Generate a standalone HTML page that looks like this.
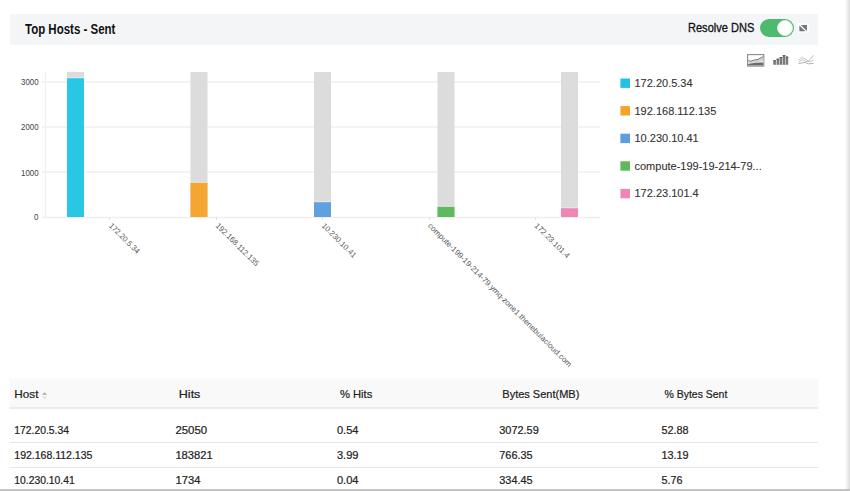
<!DOCTYPE html>
<html><head><meta charset="utf-8"><title>Top Hosts - Sent</title>
<style>
*{margin:0;padding:0;box-sizing:border-box}
html,body{width:850px;height:491px;overflow:hidden;background:#fff;font-family:"Liberation Sans",Arial,sans-serif;color:#222}
.abs{position:absolute}
#hdr{position:absolute;left:9.5px;top:14px;width:808.8px;height:30.8px;background:#f4f5f7}
#title{position:absolute;left:25px;top:21px;font-weight:bold;font-size:14px;color:#111;white-space:nowrap;transform-origin:0 0;transform:scaleX(.82)}
#rdns{position:absolute;left:688px;top:21px;font-size:12px;color:#111;-webkit-text-stroke:0.3px #111;white-space:nowrap;transform-origin:0 0;transform:scaleX(.92)}
#tog{position:absolute;left:759.5px;top:19px;width:34px;height:18px;border-radius:9px;background:#4dba6f}
#knob{position:absolute;left:777px;top:20px;width:16px;height:16px;border-radius:50%;background:#fff;border:1px solid #d8efe0}
.rshadow{position:absolute;right:0;top:0;width:5px;height:491px;background:linear-gradient(to right,#fff,#e6e6e6 70%,#d9d9d9)}
.bbar{position:absolute;left:0;bottom:0;width:850px;height:2px;background:#c3c3c3}
svg text{font-family:"Liberation Sans",Arial,sans-serif}
.th{position:absolute;top:386px;font-size:12px;color:#222;white-space:nowrap;transform-origin:0 0;transform:scaleX(.88)}
.td{position:absolute;font-size:12px;color:#222;white-space:nowrap;transform-origin:0 0;transform:scaleX(.86)}
</style></head><body>
<div id="hdr"></div>
<div id="title">Top Hosts - Sent</div>
<div id="rdns">Resolve DNS</div>
<div id="tog"></div><div id="knob"></div>
<svg class="abs" style="left:0;top:0" width="850" height="491" viewBox="0 0 850 491">
  <!-- expand icon -->
  <rect x="797.5" y="23" width="12" height="10" fill="#fafbfc"/>
  <path d="M800.8 24.9 L807 24.9 L807 31 Z" fill="#74777f"/>
  <path d="M799.4 25.6 L799.4 31.2 L805.4 31.2 Z" fill="#74777f"/>
  <!-- chart type icons -->
  <rect x="747.6" y="54.6" width="16.2" height="11.5" fill="#fff" stroke="#8a8a8a" stroke-width="1.1"/>
  <path d="M748.2 60.2 L750.6 61.3 L753 60.3 L758 59.4 L763.3 56.5 V65.6 H748.2 Z" fill="#d2d2d2"/>
  <path d="M748.2 60.2 L750.6 61.3 L753 60.3 L758 59.4 L763.3 56.5" fill="none" stroke="#727272" stroke-width="0.9"/>
  <path d="M748.2 62.6 L750.6 63.6 L753 62.8 L758 61.9 L763.3 60.5 V65.6 H748.2 Z" fill="#ebebeb"/>
  <path d="M748.2 64 L751 63.6 L756 62.8 L763.3 62.6 V65.6 H748.2 Z" fill="#6a6a6a"/>
  <g fill="#7a7a7a">
    <rect x="773.3" y="60.3" width="2.6" height="4.5"/>
    <rect x="776.6" y="58.7" width="2.6" height="6.1"/>
    <rect x="779.7" y="57" width="2.6" height="7.8"/>
    <rect x="782.8" y="55.1" width="2.5" height="9.7"/>
    <rect x="785.8" y="56.6" width="2.4" height="8.2"/>
  </g>
  <g fill="#5e5e5e">
    <rect x="773.3" y="60.3" width="2.6" height="1"/>
    <rect x="776.6" y="58.7" width="2.6" height="1"/>
    <rect x="779.7" y="57" width="2.6" height="1"/>
    <rect x="782.8" y="55.1" width="2.5" height="1"/>
    <rect x="785.8" y="56.6" width="2.4" height="1"/>
  </g>
  <g fill="none" stroke-width="1">
    <path d="M798.6 60.2 L802.5 57.4 L808.5 61 L813.6 55.2" stroke="#c2c2c2"/>
    <path d="M798.6 62 L802.3 59.8 L806 61.4 L810 61.6 L813.6 60" stroke="#c6c6c6"/>
    <path d="M798.6 63.6 L801.5 63 L805 62.4 L808.5 63.8 L813.6 63.4" stroke="#b2b2b2"/>
  </g>

  <!-- chart grid -->
  <g stroke="#efefef" stroke-width="1.3">
    <line x1="42" y1="82" x2="600.5" y2="82"/>
    <line x1="42" y1="127" x2="600.5" y2="127"/>
    <line x1="42" y1="172" x2="600.5" y2="172"/>
    <line x1="42" y1="217.5" x2="600.5" y2="217.5"/>
    <line x1="45.5" y1="72" x2="45.5" y2="217"/>
  </g>
  <g stroke="#e0e0e0" stroke-width="1">
    <line x1="109.5" y1="217" x2="109.5" y2="220"/>
    <line x1="216.5" y1="217" x2="216.5" y2="220"/>
    <line x1="322.5" y1="217" x2="322.5" y2="220"/>
    <line x1="429.5" y1="217" x2="429.5" y2="220"/>
    <line x1="535.5" y1="217" x2="535.5" y2="220"/>
  </g>
  <g font-size="8.6" fill="#444">
    <text x="21" y="85" textLength="17.6" lengthAdjust="spacingAndGlyphs">3000</text>
    <text x="21" y="130" textLength="17.6" lengthAdjust="spacingAndGlyphs">2000</text>
    <text x="21" y="175.5" textLength="17.6" lengthAdjust="spacingAndGlyphs">1000</text>
    <text x="34" y="220" textLength="4.5" lengthAdjust="spacingAndGlyphs">0</text>
  </g>
  <!-- bars -->
  <g fill="#dcdcdc">
    <rect x="67" y="72" width="17" height="145"/>
    <rect x="190.5" y="72" width="17" height="145"/>
    <rect x="314" y="72" width="17" height="145"/>
    <rect x="437.5" y="72" width="17" height="145"/>
    <rect x="561" y="72" width="17" height="145"/>
  </g>
  <rect x="67" y="78" width="17" height="139" fill="#29c7e6"/>
  <rect x="190.5" y="182.5" width="17" height="34.5" fill="#f4a630"/>
  <rect x="314" y="202" width="17" height="15" fill="#5fa1de"/>
  <rect x="437.5" y="206.5" width="17" height="10.5" fill="#5fba5d"/>
  <rect x="561" y="208" width="17" height="9" fill="#ef86b8"/>
  <g fill="#fff" opacity="0.6">
    <rect x="67" y="77.5" width="17" height="0.8"/>
    <rect x="190.5" y="182" width="17" height="0.8"/>
    <rect x="314" y="201.5" width="17" height="0.8"/>
    <rect x="437.5" y="206" width="17" height="0.8"/>
    <rect x="561" y="207.5" width="17" height="0.8"/>
  </g>
  <!-- x labels -->
  <g font-size="7.8" fill="#555" lengthAdjust="spacingAndGlyphs">
    <text transform="translate(108.6,226.2) rotate(45)" textLength="39.6" lengthAdjust="spacingAndGlyphs">172.20.5.34</text>
    <text transform="translate(215.3,226.2) rotate(45)" textLength="57.2" lengthAdjust="spacingAndGlyphs">192.168.112.135</text>
    <text transform="translate(321.2,226.2) rotate(45)" textLength="45.3" lengthAdjust="spacingAndGlyphs">10.230.10.41</text>
    <text transform="translate(427.4,226.2) rotate(45)" textLength="199.9" lengthAdjust="spacingAndGlyphs">compute-199-19-214-79.ymq-zone1.thenebulacloud.com</text>
    <text transform="translate(534.1,226.2) rotate(45)" textLength="45.8" lengthAdjust="spacingAndGlyphs">172.23.101.4</text>
  </g>
  <!-- legend -->
  <g>
    <rect x="620.4" y="78.5" width="9.6" height="9.4" fill="#22c2e6"/>
    <rect x="620.4" y="106.1" width="9.6" height="9.4" fill="#f6a427"/>
    <rect x="620.4" y="133.7" width="9.6" height="9.4" fill="#5d9fde"/>
    <rect x="620.4" y="161.3" width="9.6" height="9.4" fill="#5eb95c"/>
    <rect x="620.4" y="188.9" width="9.6" height="9.4" fill="#ef86b8"/>
  </g>
  <g font-size="11" fill="#333" stroke="#333" stroke-width="0.1">
    <text x="634.5" y="87.0">172.20.5.34</text>
    <text x="634.5" y="114.6">192.168.112.135</text>
    <text x="634.5" y="142.2">10.230.10.41</text>
    <text x="634.5" y="169.8">compute-199-19-214-79...</text>
    <text x="634.5" y="197.4">172.23.101.4</text>
  </g>
  <!-- table -->
  <rect x="9.5" y="378.5" width="809" height="29" fill="#f9f9f9"/>
  <rect x="9.5" y="407" width="809" height="2" fill="#ebebeb"/>
  <rect x="9.5" y="442" width="809" height="1" fill="#e8e8e8"/>
  <rect x="9.5" y="467" width="809" height="1" fill="#e8e8e8"/>
  <!-- sort icon -->
  <path d="M42 395 L44.5 392 L47 395 Z" fill="#b5b5b5"/>
  <path d="M42 396.5 L44.5 399.5 L47 396.5 Z" fill="#e0e0e0"/>
  <!-- table text -->
  <g font-size="11" fill="#222" stroke="#222" stroke-width="0.2">
    <text x="14.3" y="397.6" textLength="24.2" lengthAdjust="spacingAndGlyphs">Host</text>
    <text x="178.8" y="397.6" textLength="21.6" lengthAdjust="spacingAndGlyphs">Hits</text>
    <text x="339.9" y="397.6" textLength="32.4" lengthAdjust="spacingAndGlyphs">% Hits</text>
    <text x="502.3" y="397.6" textLength="77.0" lengthAdjust="spacingAndGlyphs">Bytes Sent(MB)</text>
    <text x="664.5" y="397.6" textLength="62.8" lengthAdjust="spacingAndGlyphs">% Bytes Sent</text>
  </g>
  <g font-size="10" fill="#222" stroke="#222" stroke-width="0.2">
    <text x="14.3" y="434" textLength="54.7" lengthAdjust="spacingAndGlyphs">172.20.5.34</text>
    <text x="175.4" y="434" textLength="31.8" lengthAdjust="spacingAndGlyphs">25050</text>
    <text x="336.9" y="434" textLength="21.6" lengthAdjust="spacingAndGlyphs">0.54</text>
    <text x="499.3" y="434" textLength="39.4" lengthAdjust="spacingAndGlyphs">3072.59</text>
    <text x="661.4" y="434" textLength="27.1" lengthAdjust="spacingAndGlyphs">52.88</text>
    <text x="14.3" y="458.8" textLength="78.1" lengthAdjust="spacingAndGlyphs">192.168.112.135</text>
    <text x="175.4" y="458.8" textLength="37.3" lengthAdjust="spacingAndGlyphs">183821</text>
    <text x="336.9" y="458.8" textLength="21.6" lengthAdjust="spacingAndGlyphs">3.99</text>
    <text x="499.3" y="458.8" textLength="33.3" lengthAdjust="spacingAndGlyphs">766.35</text>
    <text x="661.4" y="458.8" textLength="27.1" lengthAdjust="spacingAndGlyphs">13.19</text>
    <text x="14.3" y="483.7" textLength="60.4" lengthAdjust="spacingAndGlyphs">10.230.10.41</text>
    <text x="175.4" y="483.7" textLength="25.0" lengthAdjust="spacingAndGlyphs">1734</text>
    <text x="336.9" y="483.7" textLength="21.6" lengthAdjust="spacingAndGlyphs">0.04</text>
    <text x="499.3" y="483.7" textLength="33.3" lengthAdjust="spacingAndGlyphs">334.45</text>
    <text x="661.4" y="483.7" textLength="21.0" lengthAdjust="spacingAndGlyphs">5.76</text>
  </g>
</svg>
<div class="rshadow"></div>
<div class="bbar"></div>
</body></html>
